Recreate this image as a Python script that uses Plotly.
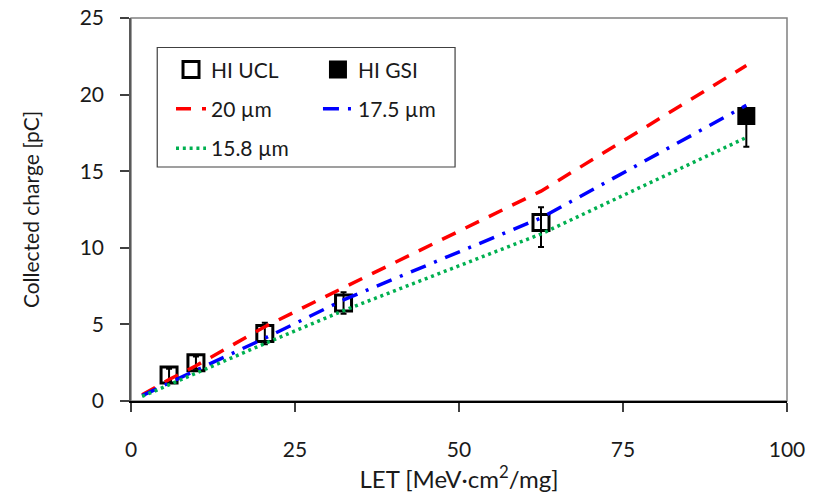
import plotly.graph_objects as go

# Measured data (heavy ions)
let_ucl = [5.8, 9.9, 20.4, 32.4, 62.5]
q_ucl = [1.7, 2.5, 4.4, 6.4, 11.65]
err_ucl_plus = [0.4, 0.4, 0.7, 0.7, 1.0]
err_ucl_minus = [0.4, 0.4, 0.7, 0.7, 1.6]

let_gsi = [93.8]
q_gsi = [18.6]
err_gsi_plus = [0.4]
err_gsi_minus = [2.0]

# Simulated collected charge for different sensitive depths
sim_let = [1.7, 5.8, 9.9, 20.4, 32.4, 62.5, 93.8]
q_20 = [0.4, 1.4, 2.3, 4.85, 7.4, 13.7, 21.9]
q_175 = [0.35, 1.15, 2.0, 4.1, 6.6, 11.95, 19.3]
q_158 = [0.3, 1.05, 1.85, 3.75, 5.9, 10.9, 17.2]

x_ticks = [0, 25, 50, 75, 100]
y_ticks = [0, 5, 10, 15, 20, 25]

FONT = "Lato"
fs = 21
TXT = "#1a1a1a"

fig = go.Figure()

fig.add_trace(go.Scatter(
    x=let_ucl, y=q_ucl, mode="markers", name="HI UCL",
    legend="legend", legendgroup="a",
    marker=dict(symbol="square-open", size=16, color="black",
                line=dict(width=3, color="black")),
    error_y=dict(type="data", symmetric=False, array=err_ucl_plus,
                 arrayminus=err_ucl_minus, color="black", thickness=2, width=3),
))
fig.add_trace(go.Scatter(
    x=let_gsi, y=q_gsi, mode="markers", name="HI GSI",
    legend="legend2", legendgroup="b",
    marker=dict(symbol="square", size=16, color="black",
                line=dict(width=2, color="black")),
    error_y=dict(type="data", symmetric=False, array=err_gsi_plus,
                 arrayminus=err_gsi_minus, color="black", thickness=2, width=3),
))
fig.add_trace(go.Scatter(
    x=sim_let, y=q_20, mode="lines", name="20 µm",
    legend="legend", legendgroup="c",
    line=dict(color="#ff0000", width=3.5, dash="15px,11px"),
))
fig.add_trace(go.Scatter(
    x=sim_let, y=q_175, mode="lines", name="17.5 µm",
    legend="legend2", legendgroup="d",
    line=dict(color="#0000ff", width=3.5, dash="16px,9px,3px,9px"),
))
fig.add_trace(go.Scatter(
    x=sim_let, y=q_158, mode="lines", name="15.8 µm",
    legend="legend", legendgroup="e",
    line=dict(color="#00b050", width=3.5, dash="3px,3.8px"),
))

axis_common = dict(
    showgrid=False, zeroline=False, ticks="outside", ticklen=9,
    tickwidth=1.5, tickcolor="#404040", showline=True, linewidth=1.5,
    automargin=False,
    tickfont=dict(family=FONT, size=fs, color=TXT),
)

fig.update_layout(
    width=822, height=494,
    margin=dict(l=131, r=35, t=18, b=93),
    plot_bgcolor="white", paper_bgcolor="white",
    font=dict(family=FONT, size=fs, color=TXT),
    xaxis=dict(range=[0, 100], tickvals=x_ticks, linecolor="black",
               ticklabelstandoff=20,
               title=dict(text="LET [MeV·cm<sup>2</sup>/mg]",
                          font=dict(family=FONT, size=24, color=TXT), standoff=8),
               **axis_common),
    yaxis=dict(range=[0, 25], tickvals=y_ticks, linecolor="#595959",
               ticklabelstandoff=12,
               title=dict(text="Collected charge [pC]",
                          font=dict(family=FONT, size=fs, color=TXT), standoff=34),
               **axis_common),
    legend=dict(x=0.061, y=0.918, xanchor="left", yanchor="top",
                bgcolor="rgba(0,0,0,0)", borderwidth=0,
                tracegroupgap=9, font=dict(family=FONT, size=fs, color=TXT)),
    legend2=dict(x=0.285, y=0.918, xanchor="left", yanchor="top",
                 bgcolor="rgba(0,0,0,0)", borderwidth=0,
                 tracegroupgap=9, font=dict(family=FONT, size=fs, color=TXT)),
    showlegend=True,
    shapes=[
        dict(type="rect", xref="x domain", yref="y domain", x0=0, x1=1, y0=0, y1=1,
             line=dict(color="#808080", width=1.5), layer="below"),
        dict(type="rect", xref="paper", yref="paper", x0=0.04, x1=0.494,
             y0=0.611, y1=0.923, line=dict(color="#404040", width=1.2),
             fillcolor="rgba(0,0,0,0)", layer="above"),
    ],
)

fig.write_html("out.html")
